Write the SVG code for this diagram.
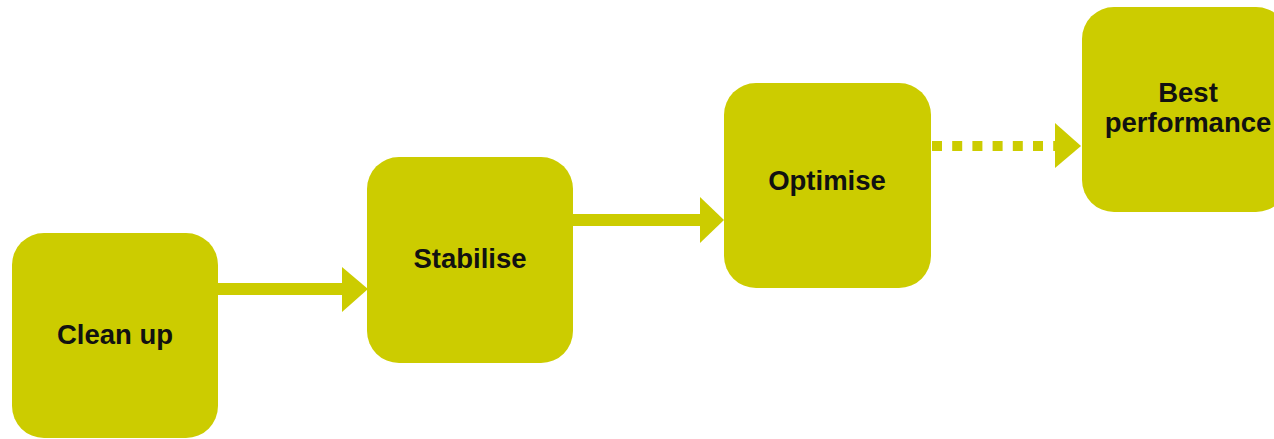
<svg xmlns="http://www.w3.org/2000/svg" width="1274" height="439" viewBox="0 0 1274 439">
<style>
.box{fill:#cccc00}
.lbl{font-family:"Liberation Sans","Noto Sans",sans-serif;font-weight:bold;font-size:27.5px;fill:#111;text-anchor:middle}
.ln{stroke:#cccc00;stroke-width:12;fill:none}
.dot{stroke:#cccc00;stroke-width:10;fill:none;stroke-dasharray:10 10.2}
.head{fill:#cccc00}
</style>
<rect width="1274" height="439" fill="#ffffff"/>
<g id="connectors">
<line class="ln" x1="216" y1="289" x2="344" y2="289"/>
<polygon class="head" points="342,267 368,289 342,312"/>
<line class="ln" x1="571" y1="220" x2="702" y2="220"/>
<polygon class="head" points="700,197 724,220 700,243"/>
<line class="dot" x1="932" y1="146" x2="1062" y2="146"/>
<polygon class="head" points="1055,123 1081,146 1055,168"/>
</g>
<g id="clean-up">
<rect class="box" x="12" y="233" width="206" height="205" rx="32"/>
<text class="lbl" x="115" y="344">Clean up</text>
</g>
<g id="stabilise">
<rect class="box" x="367" y="157" width="206" height="206" rx="32"/>
<text class="lbl" x="470" y="268">Stabilise</text>
</g>
<g id="optimise">
<rect class="box" x="724" y="83" width="207" height="205" rx="32"/>
<text class="lbl" x="827" y="190">Optimise</text>
</g>
<g id="best-performance">
<rect class="box" x="1082" y="7" width="206" height="205" rx="32"/>
<text class="lbl" x="1188" y="102">Best</text>
<text class="lbl" x="1188" y="132">performance</text>
</g>
</svg>
